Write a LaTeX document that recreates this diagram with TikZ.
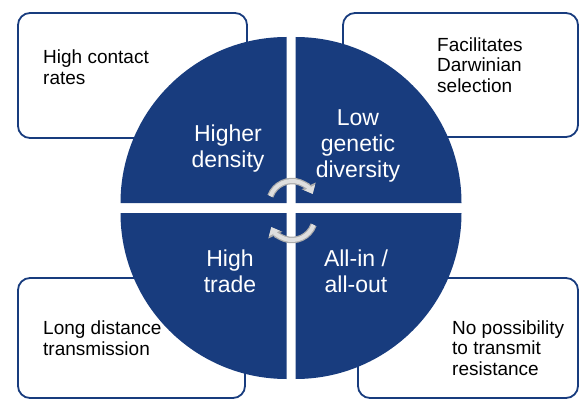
\documentclass[tikz,border=0pt]{standalone}
\usepackage{fontspec}
\setmainfont{Liberation Sans}
\usetikzlibrary{arrows.meta,positioning}
\definecolor{navy}{RGB}{24,60,126}
\newcommand{\boxfont}{\fontsize{19}{20.5}\selectfont}
\newcommand{\wedgefont}{\fontsize{23}{26}\selectfont}

\begin{document}
\begin{tikzpicture}[x=1pt,y=1pt,
    box/.style={draw=navy,line width=1.8pt,fill=white,rounded corners=12pt},
    boxtext/.style={anchor=base west,align=left,inner sep=0pt,font=\boxfont},
    wedgetext/.style={anchor=base,align=center,inner sep=0pt,text=white,font=\wedgefont},
    turn/.style={line width=6.5pt,draw=gray!65,-{Triangle[length=9pt,width=15pt]}},
    turnin/.style={line width=4pt,draw=gray!25,-{Triangle[length=7pt,width=11.5pt]}}]
    \useasboundingbox (0,0) rectangle (579,400);

    % outer boxes
    \draw[box] (18,262) rectangle (247,387);
    \draw[box] (343,263) rectangle (578,387);
    \draw[box] (18,2) rectangle (245,122);
    \draw[box] (358,2) rectangle (578,122);

    % four quarters of the disc
    \fill[navy] (286.5,197) -- ++(-166,0) arc[start angle=180,end angle=90,radius=166] -- cycle;
    \fill[navy] (295.5,197) -- ++(0,166) arc[start angle=90,end angle=0,radius=166] -- cycle;
    \fill[navy] (286.5,187) -- ++(0,-166) arc[start angle=270,end angle=180,radius=166] -- cycle;
    \fill[navy] (295.5,187) -- ++(166,0) arc[start angle=0,end angle=-90,radius=166] -- cycle;

    % turning arrows
    \draw[turn] (292,196) ++(160:23) arc[start angle=160,end angle=26,radius=23];
    \draw[turnin] (292,196) ++(160:23) arc[start angle=160,end angle=26,radius=23];
    \draw[turn] (292,183) ++(-20:23) arc[start angle=-20,end angle=-154,radius=23];
    \draw[turnin] (292,183) ++(-20:23) arc[start angle=-20,end angle=-154,radius=23];

    \node[wedgetext] (density) at (228,233) {Higher\\density};
    \node[wedgetext] (diversity) at (358,223) {Low\\genetic\\diversity};
    \node[wedgetext] (trade) at (230,108) {High\\trade};
    \node[wedgetext] (allin) at (356,108) {All-in /\\all-out};

    \node[boxtext] (contact) at (43,316) {High contact\\rates};
    \node[boxtext] (darwin) at (437,308) {Facilitates\\Darwinian\\selection};
    \node[boxtext] (distance) at (43,45) {Long distance\\transmission};
    \node[boxtext] (resist) at (452,25) {No possibility\\to transmit\\resistance};
\end{tikzpicture}
\end{document}
